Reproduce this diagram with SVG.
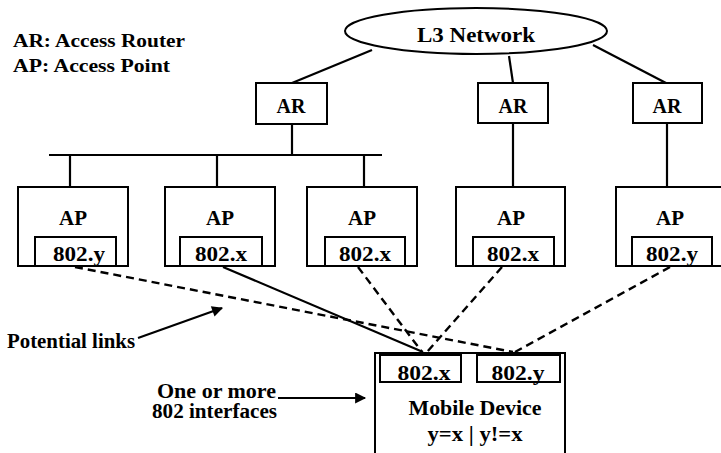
<svg xmlns="http://www.w3.org/2000/svg" width="721" height="453" viewBox="0 0 721 453">
<defs>
<marker id="ah" viewBox="0 0 10 10" refX="9" refY="5" markerWidth="6" markerHeight="5" orient="auto" markerUnits="strokeWidth">
<path d="M0,0 L10,5 L0,10 Z" fill="#000"/>
</marker>
</defs>
<style>
text{font-family:"Liberation Serif","Times New Roman","DejaVu Serif",serif;fill:#000;font-weight:bold}
.box{fill:#fff;stroke:#000;stroke-width:2}
.ln{stroke:#000;stroke-width:2.2;fill:none}
.dash{stroke:#000;stroke-width:2.4;fill:none;stroke-dasharray:8 5}
.lbl{font-size:20px;text-anchor:middle}
.ap{font-size:21px;text-anchor:middle}
.if{font-size:22px;text-anchor:middle}
.note{font-size:19px}
.bold{font-size:20px}
</style>
<rect width="721" height="453" fill="#fff"/>

<g id="legend">
<text class="note" x="13" y="47" textLength="172" lengthAdjust="spacingAndGlyphs">AR: Access Router</text>
<text class="note" x="13" y="72" textLength="157" lengthAdjust="spacingAndGlyphs">AP: Access Point</text>
</g>

<g id="connectors">
<line class="ln" x1="372" y1="50" x2="292" y2="83"/>
<line class="ln" x1="509" y1="56" x2="513" y2="83"/>
<line class="ln" x1="593" y1="45" x2="666" y2="83"/>
<line class="ln" x1="49" y1="155" x2="382" y2="155"/>
<line class="ln" x1="292" y1="124" x2="292" y2="155"/>
<line class="ln" x1="70" y1="155" x2="70" y2="187"/>
<line class="ln" x1="217" y1="155" x2="217" y2="187"/>
<line class="ln" x1="364" y1="155" x2="364" y2="187"/>
<line class="ln" x1="513" y1="123" x2="513" y2="187"/>
<line class="ln" x1="667" y1="123" x2="667" y2="187"/>
<line class="ln" x1="223" y1="267" x2="423" y2="352"/>
<line class="dash" x1="75" y1="267" x2="513" y2="352"/>
<line class="dash" x1="358" y1="267" x2="422" y2="352"/>
<line class="dash" x1="502" y1="267" x2="427" y2="352"/>
<line class="dash" x1="670" y1="267" x2="515" y2="352"/>
<line class="ln" x1="138" y1="338" x2="222" y2="308" marker-end="url(#ah)"/>
<line class="ln" x1="278" y1="398" x2="365" y2="398" marker-end="url(#ah)"/>
</g>

<g id="l3">
<ellipse class="box" cx="476" cy="31" rx="131" ry="23"/>
<text class="lbl" x="476" y="42" textLength="118" lengthAdjust="spacingAndGlyphs">L3 Network</text>
</g>

<g id="ar1">
<rect class="box" x="256" y="83" width="71" height="41"/>
<text class="lbl" x="291" y="113">AR</text>
</g>
<g id="ar2">
<rect class="box" x="478" y="83" width="70" height="40"/>
<text class="lbl" x="513" y="113">AR</text>
</g>
<g id="ar3">
<rect class="box" x="633" y="83" width="69" height="40"/>
<text class="lbl" x="667" y="113">AR</text>
</g>

<g id="ap1">
<rect class="box" x="18" y="187" width="110" height="79"/>
<text class="ap" x="73" y="225">AP</text>
<rect class="box" x="35" y="237" width="81" height="29"/>
<text class="if" x="79" y="261" textLength="52" lengthAdjust="spacingAndGlyphs">802.y</text>
</g>
<g id="ap2">
<rect class="box" x="165" y="187" width="110" height="79"/>
<text class="ap" x="220" y="225">AP</text>
<rect class="box" x="180" y="237" width="82" height="29"/>
<text class="if" x="221" y="261" textLength="52" lengthAdjust="spacingAndGlyphs">802.x</text>
</g>
<g id="ap3">
<rect class="box" x="307" y="187" width="110" height="79"/>
<text class="ap" x="362" y="225">AP</text>
<rect class="box" x="325" y="237" width="80" height="29"/>
<text class="if" x="365" y="261" textLength="52" lengthAdjust="spacingAndGlyphs">802.x</text>
</g>
<g id="ap4">
<rect class="box" x="456" y="187" width="109" height="79"/>
<text class="ap" x="511" y="225">AP</text>
<rect class="box" x="473" y="237" width="81" height="29"/>
<text class="if" x="513" y="261" textLength="52" lengthAdjust="spacingAndGlyphs">802.x</text>
</g>
<g id="ap5">
<rect class="box" x="616" y="187" width="112" height="79"/>
<text class="ap" x="670" y="225">AP</text>
<rect class="box" x="632" y="237" width="80" height="29"/>
<text class="if" x="672" y="261" textLength="52" lengthAdjust="spacingAndGlyphs">802.y</text>
</g>

<g id="mobile">
<rect class="box" x="375" y="353" width="190" height="110"/>
<rect class="box" x="380" y="355" width="81" height="27"/>
<text class="if" x="424" y="380" textLength="53" lengthAdjust="spacingAndGlyphs">802.x</text>
<rect class="box" x="477" y="355" width="83" height="27"/>
<text class="if" x="518" y="380" textLength="53" lengthAdjust="spacingAndGlyphs">802.y</text>
<text class="lbl" x="475" y="415" textLength="133" lengthAdjust="spacingAndGlyphs">Mobile Device</text>
<text class="lbl" x="475" y="441" textLength="95" lengthAdjust="spacingAndGlyphs">y=x | y!=x</text>
</g>

<g id="labels">
<text class="bold" x="7" y="348" textLength="128" lengthAdjust="spacingAndGlyphs">Potential links</text>
<text class="bold" x="157" y="398" textLength="119" lengthAdjust="spacingAndGlyphs">One or more</text>
<text class="bold" x="152" y="418" textLength="125" lengthAdjust="spacingAndGlyphs">802 interfaces</text>
</g>
</svg>
